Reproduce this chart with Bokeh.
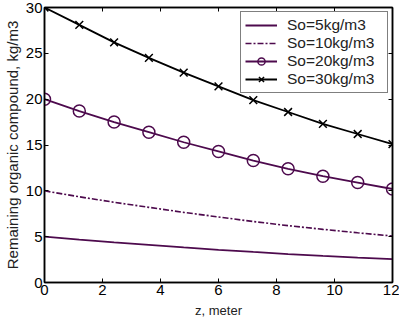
from bokeh.plotting import figure
from bokeh.models import LinearAxis, Legend, LegendItem, FixedTicker, Range1d
from bokeh.embed import file_html
from bokeh.resources import INLINE

# depth along the reactor (m) and remaining organic compound (kg/m3)
z = [0, 1.2, 2.4, 3.6, 4.8, 6.0, 7.2, 8.4, 9.6, 10.8, 12.0]
so5 = [5.0, 4.67, 4.37, 4.10, 3.83, 3.57, 3.33, 3.10, 2.90, 2.72, 2.55]
so10 = [10.0, 9.35, 8.75, 8.20, 7.65, 7.15, 6.65, 6.20, 5.80, 5.42, 5.07]
so20 = [20.0, 18.7, 17.5, 16.4, 15.3, 14.3, 13.3, 12.4, 11.6, 10.9, 10.2]
so30 = [30.0, 28.1, 26.2, 24.5, 22.9, 21.4, 19.9, 18.6, 17.3, 16.2, 15.1]

x_ticks = [0, 2, 4, 6, 8, 10, 12]
y_ticks = [0, 5, 10, 15, 20, 25, 30]

PURPLE = "#4d0a4d"
FONT = "Liberation Sans"

p = figure(width=399, height=322, output_backend="svg", toolbar_location=None,
           x_range=Range1d(0, 12), y_range=Range1d(0, 30),
           x_axis_location=None, y_axis_location=None)
p.min_border_left = 41
p.min_border_right = 7
p.min_border_top = 7
p.min_border_bottom = 40
p.grid.visible = False
p.outline_line_color = "black"
p.outline_line_width = 1.5
p.background_fill_color = "white"
p.border_fill_color = "white"


def styled_axis(axis, ticks, labels=True, label_size="14px"):
    axis.ticker = FixedTicker(ticks=ticks)
    axis.major_tick_in = 4
    axis.major_tick_out = 0
    axis.minor_tick_in = 0
    axis.minor_tick_out = 0
    axis.axis_line_color = "black"
    axis.axis_line_width = 1.5
    axis.major_tick_line_color = "black"
    if labels:
        axis.major_label_text_font = FONT
        axis.major_label_text_font_size = "15px"
        axis.major_label_text_color = "black"
        axis.major_label_standoff = 2
        axis.axis_label_text_font = FONT
        axis.axis_label_text_font_size = label_size
        axis.axis_label_text_font_style = "normal"
        axis.axis_label_text_color = "#222222"
        axis.axis_label_standoff = 5
    else:
        # tick marks only on the mirrored top/right edges
        axis.major_label_text_color = None
        axis.major_label_text_font_size = "1px"
        axis.major_label_standoff = 0
    return axis


xb = styled_axis(LinearAxis(axis_label="z, meter"), x_ticks, label_size="13px")
yl = styled_axis(LinearAxis(axis_label="Remaining organic compound, kg/m3"),
                 y_ticks, label_size="15px")
yl.axis_label_standoff = 2
xt = styled_axis(LinearAxis(), x_ticks, labels=False)
yr = styled_axis(LinearAxis(), y_ticks, labels=False)
p.add_layout(xb, "below")
p.add_layout(yl, "left")
p.add_layout(xt, "above")
p.add_layout(yr, "right")

r5 = p.line(z, so5, line_color=PURPLE, line_width=1.8)
r10 = p.line(z, so10, line_color=PURPLE, line_width=1.6, line_dash="6 2 2 2")
r20 = p.line(z, so20, line_color=PURPLE, line_width=1.8)
m20 = p.scatter(z, so20, marker="circle", size=12, line_color=PURPLE,
                line_width=1.5, fill_color=None)
r30 = p.line(z, so30, line_color="black", line_width=1.8)
m30 = p.scatter(z, so30, marker="x", size=11, line_color="black", line_width=1.5)

legend = Legend(items=[
    LegendItem(label="So=5kg/m3", renderers=[r5]),
    LegendItem(label="So=10kg/m3", renderers=[r10]),
    LegendItem(label="So=20kg/m3", renderers=[r20, m20]),
    LegendItem(label="So=30kg/m3", renderers=[r30, m30]),
], location="top_right")
legend.label_text_font = FONT
legend.label_text_font_size = "15.5px"
legend.label_text_color = "#222222"
legend.border_line_color = "black"
legend.border_line_width = 1.2
legend.background_fill_alpha = 1
legend.margin = 4
legend.padding = 4
legend.spacing = 0
legend.glyph_width = 32
legend.glyph_height = 18
legend.label_height = 18
legend.label_width = 96
legend.label_standoff = 10
legend.label_text_baseline = "middle"
p.add_layout(legend, "center")

open("out.html", "w").write(file_html(p, INLINE))
